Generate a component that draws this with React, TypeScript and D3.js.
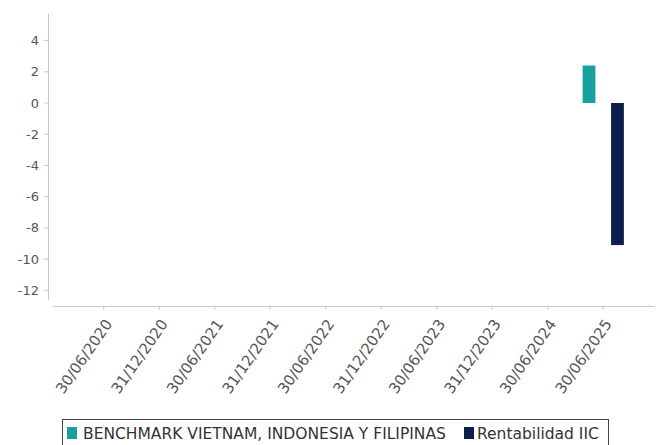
import React, { useEffect, useRef } from 'react';
import * as d3 from 'd3';

const categories = [
    '30/06/2020', '31/12/2020', '30/06/2021', '31/12/2021', '30/06/2022',
    '31/12/2022', '30/06/2023', '31/12/2023', '30/06/2024', '30/06/2025',
];
const seriesNames = ['BENCHMARK VIETNAM, INDONESIA Y FILIPINAS', 'Rentabilidad IIC'];
const benchmark: (number | null)[] = [null, null, null, null, null, null, null, null, null, 2.4];
const rentabilidad: (number | null)[] = [null, null, null, null, null, null, null, null, null, -9.1];
const yTicks = [4, 2, 0, -2, -4, -6, -8, -10, -12];
const colors = ['#16a09f', '#0b1f4d'];

const App: React.FC = () => {
    const svgRef = useRef<SVGSVGElement>(null);

    useEffect(() => {
        d3.select(svgRef.current).selectAll('*').remove();

        const width = 663;
        const height = 445;
        const font = 'DejaVu Sans, sans-serif';

        const svg = d3.select(svgRef.current)
            .attr('width', width)
            .attr('height', height)
            .style('background', '#ffffff');

        const y = d3.scaleLinear().domain([-13, 5.7]).range([306, 14]);
        const x = d3.scaleBand().domain(categories).range([76, 631]);
        const inner = d3.scaleBand().domain(seriesNames).range([0, x.bandwidth()]).paddingInner(0.55).paddingOuter(0.25);

        // Y axis
        svg.append('line')
            .attr('x1', 48.5).attr('x2', 48.5).attr('y1', 14).attr('y2', 300)
            .attr('stroke', '#c8c8c8');
        const yg = svg.append('g');
        yTicks.forEach(t => {
            yg.append('line')
                .attr('x1', 44).attr('x2', 48).attr('y1', y(t)).attr('y2', y(t))
                .attr('stroke', '#c8c8c8');
            yg.append('text')
                .attr('x', 39).attr('y', y(t)).attr('dy', '0.35em')
                .attr('text-anchor', 'end')
                .style('font-family', font).style('font-size', '13px')
                .attr('fill', '#555')
                .text(t);
        });

        // X axis
        svg.append('line')
            .attr('x1', 53).attr('x2', 655).attr('y1', 306.5).attr('y2', 306.5)
            .attr('stroke', '#c8c8c8');
        const xg = svg.append('g');
        categories.forEach(c => {
            const cx = (x(c) ?? 0) + x.bandwidth() / 2;
            xg.append('line')
                .attr('x1', cx).attr('x2', cx).attr('y1', 306).attr('y2', 310)
                .attr('stroke', '#c8c8c8');
            xg.append('text')
                .attr('transform', `translate(${cx + 5},${321}) rotate(-55)`)
                .attr('text-anchor', 'end')
                .attr('dy', '0.35em')
                .style('font-family', font).style('font-size', '15px')
                .attr('fill', '#555')
                .text(c);
        });

        // Bars
        [benchmark, rentabilidad].forEach((series, si) => {
            svg.append('g').selectAll('rect')
                .data(series.map((v, i) => ({ v, c: categories[i] })).filter(d => d.v !== null))
                .join('rect')
                .attr('x', d => (x(d.c) ?? 0) + (inner(seriesNames[si]) ?? 0))
                .attr('width', inner.bandwidth())
                .attr('y', d => y(Math.max(0, d.v as number)))
                .attr('height', d => Math.abs(y(d.v as number) - y(0)))
                .attr('fill', colors[si]);
        });

        // Legend
        const lg = svg.append('g');
        lg.append('rect')
            .attr('x', 62.5).attr('y', 419.5).attr('width', 546).attr('height', 30)
            .attr('fill', '#fff').attr('stroke', '#444');
        const items = [
            { x: 67, tx: 83 },
            { x: 464, tx: 477 },
        ];
        seriesNames.forEach((n, i) => {
            lg.append('rect')
                .attr('x', items[i].x).attr('y', 427).attr('width', 10).attr('height', 12)
                .attr('fill', colors[i]);
            lg.append('text')
                .attr('x', items[i].tx).attr('y', 439)
                .style('font-family', font).style('font-size', '15.5px')
                .attr('fill', '#333')
                .text(n);
        });
    }, []);

    return <svg ref={svgRef} style={{ position: 'absolute', left: 0, top: 0 }}></svg>;
};

export default App;
